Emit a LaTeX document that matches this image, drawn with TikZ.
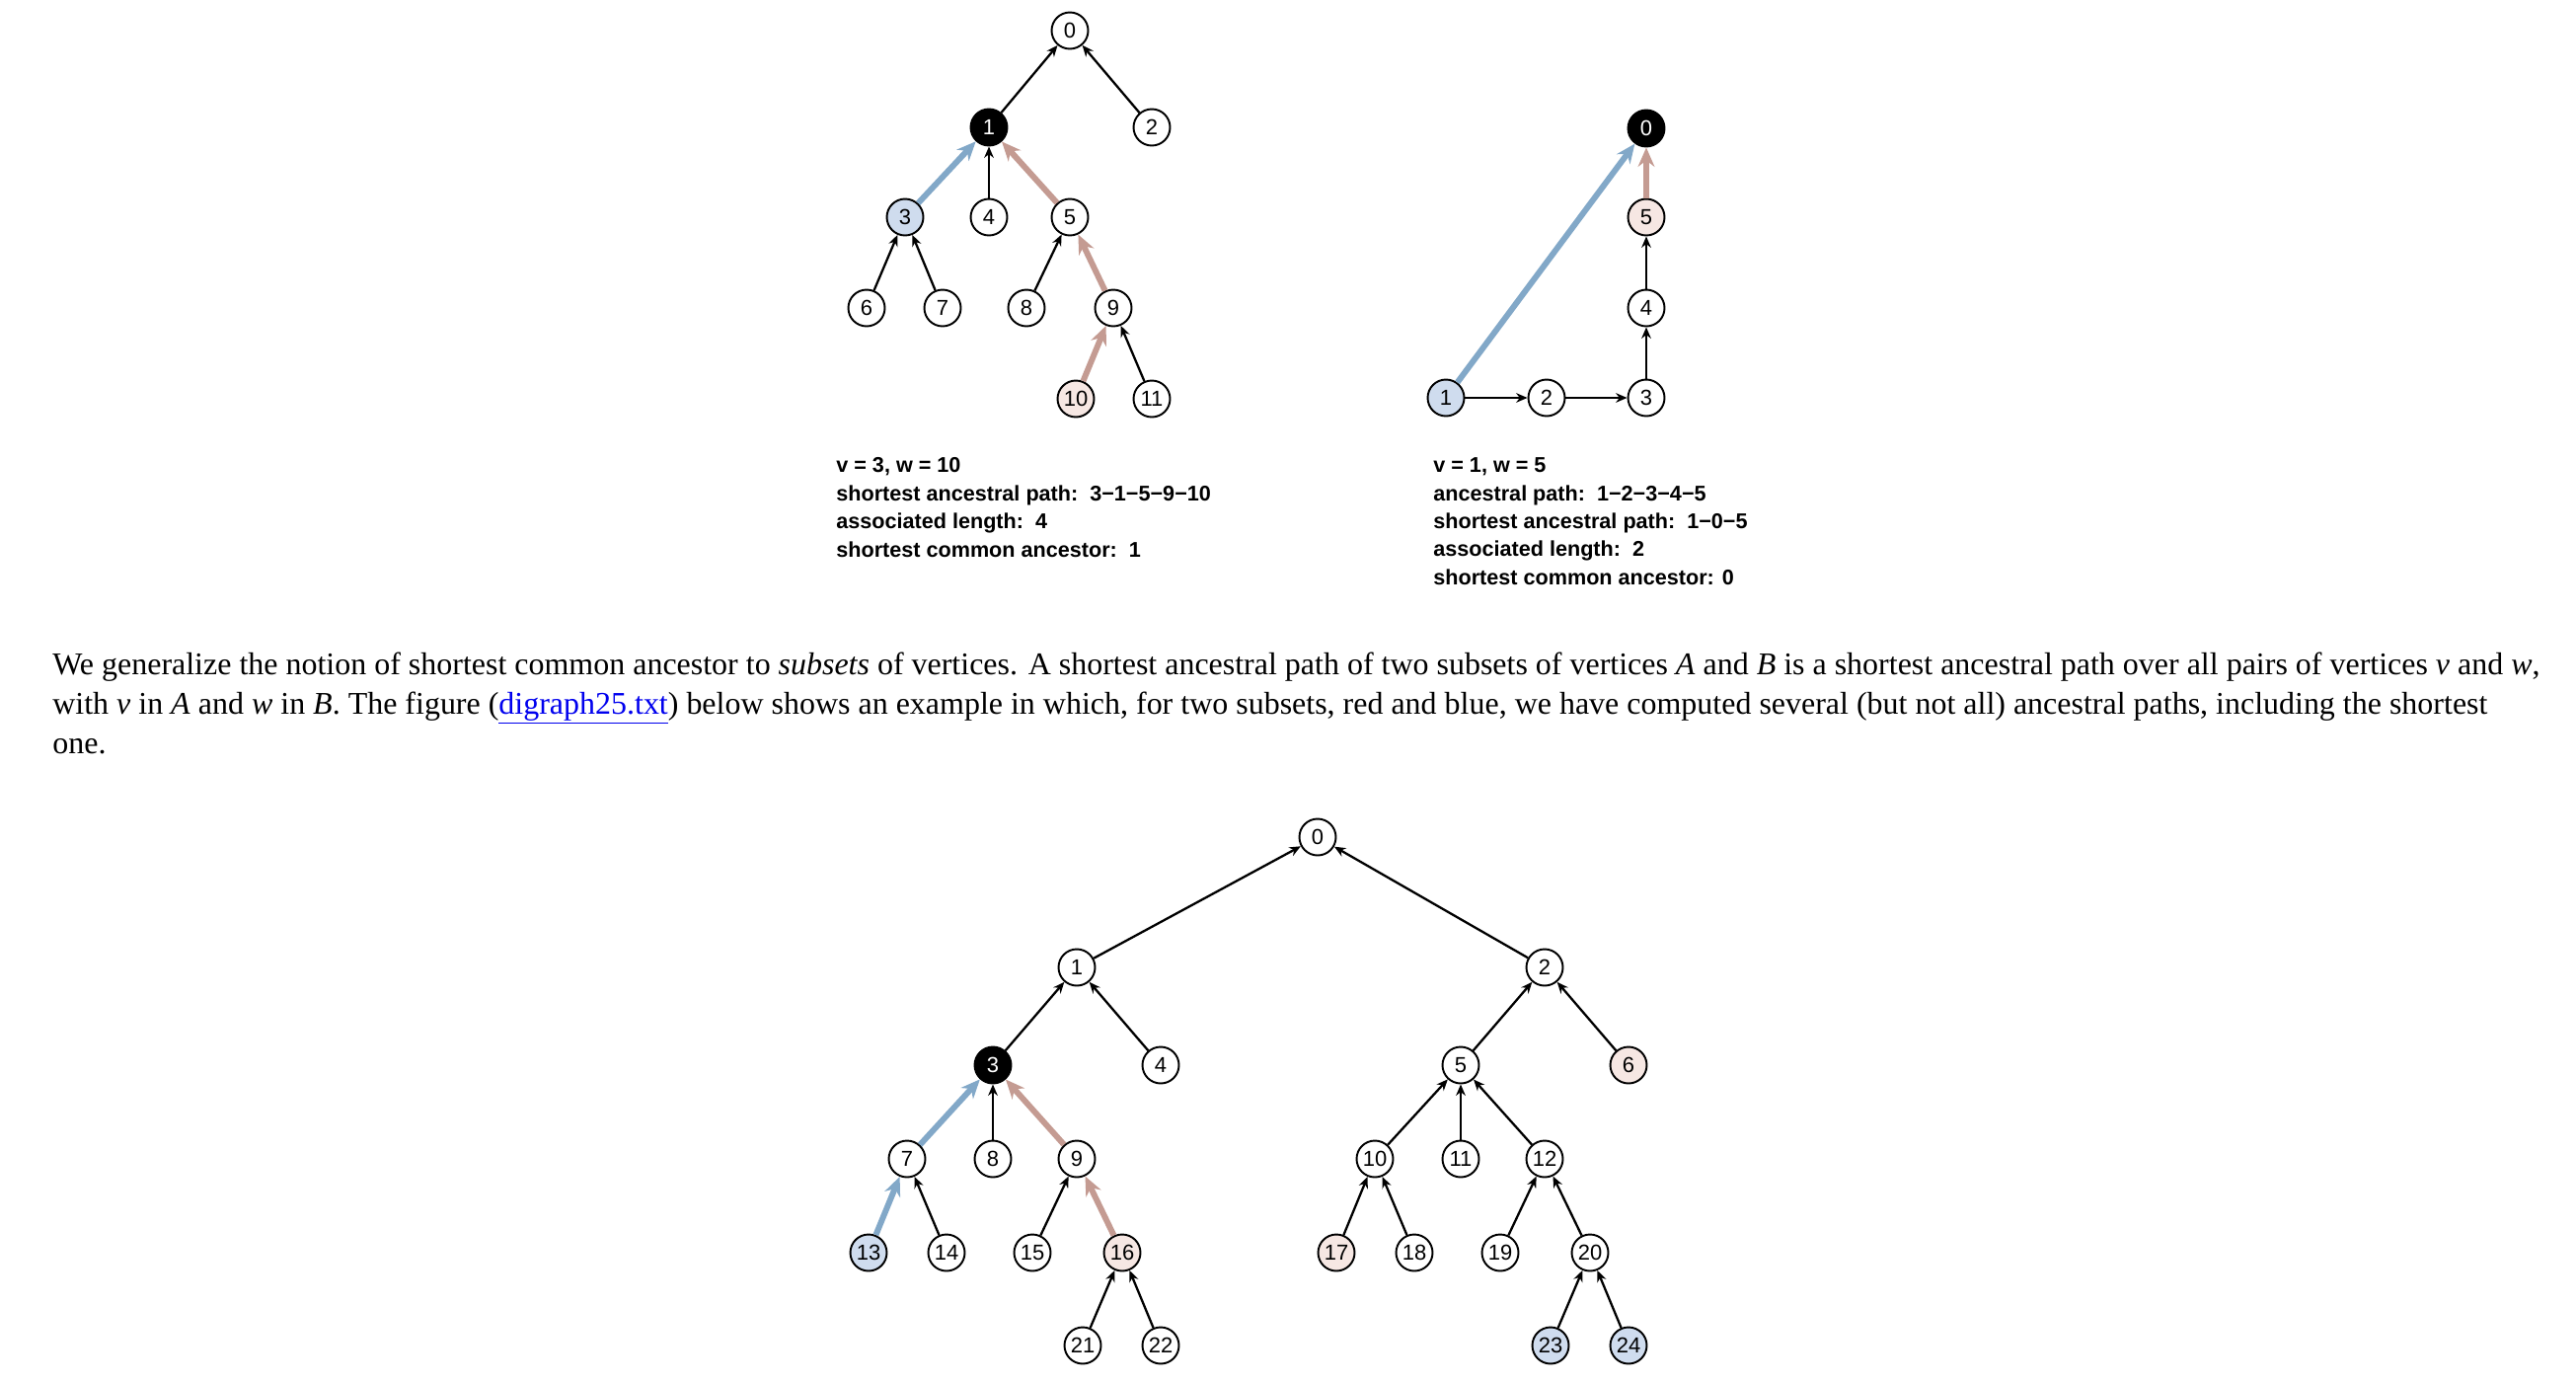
\documentclass[tikz,border=0pt]{standalone}
\usepackage{fontspec}
\setmainfont{Liberation Serif}
\newfontfamily\vtxfont{Liberation Sans}
\newfontfamily\capfont{Liberation Sans}
\usetikzlibrary{arrows.meta}
\definecolor{pathblue}{HTML}{82A8C8}
\definecolor{pathred}{HTML}{C49B92}
\definecolor{fillblue}{HTML}{CFDCEE}
\definecolor{fillred}{HTML}{F6E7E3}
\definecolor{linkblue}{HTML}{0000EE}
\tikzset{
  vtx/.style={circle, draw, line width=1.1pt, minimum size=0.74cm, inner sep=0pt, font=\vtxfont\fontsize{12.5}{14}\selectfont},
  blk/.style={vtx, fill=black, text=white},
  inA/.style={vtx, fill=fillblue},
  inB/.style={vtx, fill=fillred},
  edge/.style={-{Stealth[length=6.5pt,width=5.5pt]}, line width=1.3pt},
  bluepath/.style={-{Stealth[length=11pt,width=9.5pt]}, line width=3.4pt, pathblue},
  redpath/.style={-{Stealth[length=11pt,width=9.5pt]}, line width=3.4pt, pathred},
  capline/.style={anchor=base west, inner sep=0pt, font=\capfont\bfseries\fontsize{12.3}{14}\selectfont},
  para/.style={anchor=base west, inner sep=0pt, font=\fontsize{18.2}{21}\selectfont}
}
\begin{document}
\begin{tikzpicture}[x=0.02cm, y=-0.02cm]
    \useasboundingbox (0,0) rectangle (2610,1400);
    % Left example: v = 3, w = 10
    \node[vtx] (a0) at (1084,31) {0};
    \node[blk] (a1) at (1002,129) {1}; \node[vtx] (a2) at (1167,129) {2};
    \node[inA] (a3) at (917,220) {3}; \node[vtx] (a4) at (1002,220) {4}; \node[vtx] (a5) at (1084,220) {5};
    \node[vtx] (a6) at (878,312) {6}; \node[vtx] (a7) at (955,312) {7}; \node[vtx] (a8) at (1040,312) {8}; \node[vtx] (a9) at (1128,312) {9};
    \node[inB] (a10) at (1090,404) {10}; \node[vtx] (a11) at (1167,404) {11};
    \draw[edge] (a1) -- (a0); \draw[edge] (a2) -- (a0); \draw[edge] (a4) -- (a1);
    \draw[edge] (a6) -- (a3); \draw[edge] (a7) -- (a3); \draw[edge] (a8) -- (a5); \draw[edge] (a11) -- (a9);
    \draw[bluepath] (a3) -- (a1);
    \draw[redpath] (a5) -- (a1); \draw[redpath] (a9) -- (a5); \draw[redpath] (a10) -- (a9);
    \node[capline] (acap1) at (847,478) {v = 3, w = 10};
    \node[capline] (acap2) at (847,507) {shortest ancestral path:\ \ 3−1−5−9−10};
    \node[capline] (acap3) at (847,535) {associated length:\ \ 4};
    \node[capline] (acap4) at (847,564) {shortest common ancestor:\ \ 1};
    % Right example: v = 1, w = 5
    \node[blk] (b0) at (1668,130) {0};
    \node[inB] (b5) at (1668,220) {5};
    \node[vtx] (b4) at (1668,312) {4};
    \node[inA] (b1) at (1465,403) {1}; \node[vtx] (b2) at (1567,403) {2}; \node[vtx] (b3) at (1668,403) {3};
    \draw[edge] (b1) -- (b2); \draw[edge] (b2) -- (b3); \draw[edge] (b3) -- (b4); \draw[edge] (b4) -- (b5);
    \draw[bluepath] (b1) -- (b0);
    \draw[redpath] (b5) -- (b0);
    \node[capline] (bcap1) at (1452,478) {v = 1, w = 5};
    \node[capline] (bcap2) at (1452,507) {ancestral path:\ \ 1−2−3−4−5};
    \node[capline] (bcap3) at (1452,535) {shortest ancestral path:\ \ 1−0−5};
    \node[capline] (bcap4) at (1452,563) {associated length:\ \ 2};
    \node[capline] (bcap5) at (1452,592) {shortest common ancestor: 0};
    % Paragraph
    \node[para] (line1) at (53,683) {We generalize the notion of shortest common ancestor to \textit{subsets} of vertices. A shortest ancestral path of two subsets of vertices \textit{A} and \textit{B} is a shortest ancestral path over all pairs of vertices \textit{v} and \textit{w},};
    \node[para] (line2) at (53,723) {with \textit{v} in \textit{A} and \textit{w} in \textit{B}. The figure ({\color{linkblue}\underline{digraph25.txt}}) below shows an example in which, for two subsets, red and blue, we have computed several (but not all) ancestral paths, including the shortest};
    \node[para] (line3) at (53,763) {one.};
    % Subsets example (digraph25)
    \node[vtx] (c0) at (1335,848) {0};
    \node[vtx] (c1) at (1091,980) {1}; \node[vtx] (c2) at (1565,980) {2};
    \node[blk] (c3) at (1006,1079) {3}; \node[vtx] (c4) at (1176,1079) {4}; \node[vtx] (c5) at (1480,1079) {5}; \node[inB] (c6) at (1650,1079) {6};
    \node[vtx] (c7) at (919,1174) {7}; \node[vtx] (c8) at (1006,1174) {8}; \node[vtx] (c9) at (1091,1174) {9};
    \node[vtx] (c10) at (1393,1174) {10}; \node[vtx] (c11) at (1480,1174) {11}; \node[vtx] (c12) at (1565,1174) {12};
    \node[inA] (c13) at (880,1269) {13}; \node[vtx] (c14) at (959,1269) {14}; \node[vtx] (c15) at (1046,1269) {15}; \node[inB] (c16) at (1137,1269) {16};
    \node[inB] (c17) at (1354,1269) {17}; \node[vtx] (c18) at (1433,1269) {18}; \node[vtx] (c19) at (1520,1269) {19}; \node[vtx] (c20) at (1611,1269) {20};
    \node[vtx] (c21) at (1097,1363) {21}; \node[vtx] (c22) at (1176,1363) {22}; \node[inA] (c23) at (1571,1363) {23}; \node[inA] (c24) at (1650,1363) {24};
    \draw[edge] (c1) -- (c0); \draw[edge] (c2) -- (c0); \draw[edge] (c3) -- (c1); \draw[edge] (c4) -- (c1);
    \draw[edge] (c5) -- (c2); \draw[edge] (c6) -- (c2); \draw[edge] (c8) -- (c3);
    \draw[edge] (c10) -- (c5); \draw[edge] (c11) -- (c5); \draw[edge] (c12) -- (c5);
    \draw[edge] (c14) -- (c7); \draw[edge] (c15) -- (c9); \draw[edge] (c17) -- (c10); \draw[edge] (c18) -- (c10);
    \draw[edge] (c19) -- (c12); \draw[edge] (c20) -- (c12); \draw[edge] (c21) -- (c16); \draw[edge] (c22) -- (c16);
    \draw[edge] (c23) -- (c20); \draw[edge] (c24) -- (c20);
    \draw[bluepath] (c7) -- (c3); \draw[bluepath] (c13) -- (c7);
    \draw[redpath] (c9) -- (c3); \draw[redpath] (c16) -- (c9);
\end{tikzpicture}
\end{document}
